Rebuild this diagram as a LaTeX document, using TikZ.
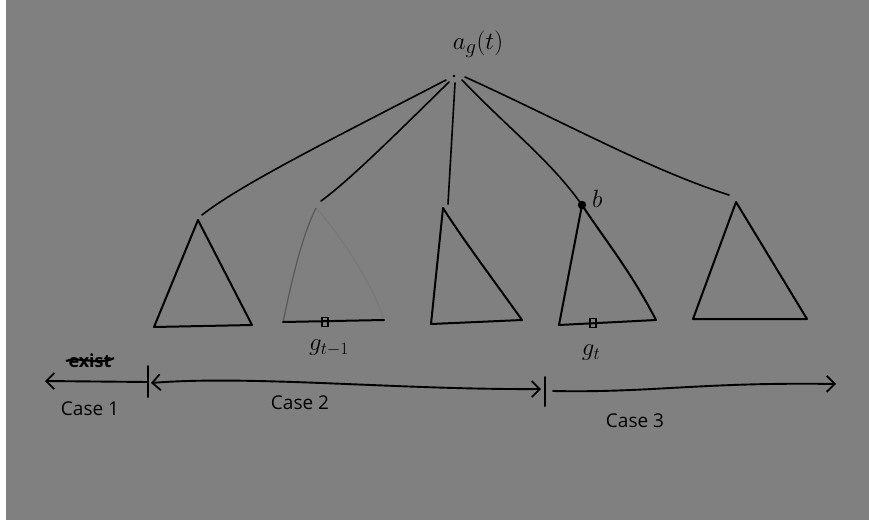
\documentclass[tikz,border=0pt]{standalone}
\usepackage{fontspec}
\setsansfont{Open Sans}
\usetikzlibrary{arrows.meta}
\tikzset{casetip/.tip={Straight Barb[length=8pt,width=16pt,line width=1.8pt]}}
\begin{document}
\begin{tikzpicture}[x=1pt,y=-1pt,
  ink/.style={line width=2pt, line cap=round, line join=round, black},
  edgeln/.style={line width=1.6pt, line cap=round, black},
  faint/.style={line width=1.2pt, black, opacity=0.3},
  fainter/.style={line width=1pt, black, opacity=0.06},
  casearrow/.style={line width=1.9pt, line cap=round, black},
  lab/.style={font=\sffamily\fontsize{19}{22}\selectfont, inner sep=0pt},
  mlab/.style={font=\fontsize{24}{28}\selectfont, inner sep=0pt},
  rlab/.style={font=\fontsize{30}{34}\selectfont, inner sep=0pt},
  marker/.style={draw, line width=1.5pt, minimum width=6pt, minimum height=9pt, inner sep=0pt}
]
\useasboundingbox (0,0) rectangle (869,522);
\fill[white] (0,0) rectangle (869,522);
\fill[gray] (6,0) rectangle (869,520);

% root
\coordinate (root) at (454,76);
\node[rlab] (rootlab) at (478,44) {$a_g(t)$};
\fill (root) circle (1.3pt);

% triangle apexes and bases
\coordinate (t1a) at (198,220); \coordinate (t1l) at (154,327); \coordinate (t1r) at (252,325);
\coordinate (t2a) at (316,208); \coordinate (t2l) at (283,322); \coordinate (t2r) at (384,320);
\coordinate (t3a) at (443,208); \coordinate (t3l) at (431,324); \coordinate (t3r) at (522,320);
\coordinate (t4a) at (582,205); \coordinate (t4l) at (559,325); \coordinate (t4r) at (656,320);
\coordinate (t5a) at (736,202); \coordinate (t5l) at (693,319); \coordinate (t5r) at (807,319);

% edge ends
\coordinate (e1) at (202,215);
\coordinate (e2) at (321,201);
\coordinate (e3) at (448,204);
\coordinate (e5) at (729,195);
\coordinate (r1) at (446,80);
\coordinate (r2) at (449,82);
\coordinate (r3) at (455,83);
\coordinate (r4) at (462,80);
\coordinate (r5) at (465,77);

% edges
\draw[edgeln] (r1) .. controls (330,140) and (240,185) .. (e1);
\draw[edgeln] (r2) .. controls (400,130) and (350,180) .. (e2);
\draw[edgeln] (r3) -- (e3);
\draw[edgeln] (r4) .. controls (510,130) and (550,160) .. (t4a);
\draw[edgeln] (r5) .. controls (560,120) and (650,170) .. (e5);

% triangles
\draw[ink] (t1a) -- (t1l) -- (t1r) -- cycle;
\draw[faint] (t2a) .. controls (300,240) and (290,290) .. (t2l);
\draw[fainter] (t2a) .. controls (345,240) and (375,290) .. (t2r);
\draw[ink] (t2l) -- (t2r);
\draw[ink] (t3a) -- (t3l) -- (t3r) .. controls (492,278) and (462,238) .. (t3a);
\draw[ink] (t4a) -- (t4l) -- (t4r) .. controls (630,270) and (605,240) .. (t4a);
\draw[ink] (t5a) -- (t5l) -- (t5r) -- cycle;

% b point and markers
\fill (t4a) circle (4.2pt);
\node[mlab, anchor=west] (blab) at (592,199) {$b$};
\node[marker] (m1) at (325,322) {};
\node[marker] (m2) at (593,323) {};
\node[mlab] (g1) at (329,348) {$g_{t-1}$};
\node[mlab] (g2) at (591,353) {$g_t$};

% case axis
\coordinate (tick1) at (148,382);
\coordinate (tick2) at (545,392);
\coordinate (c1end) at (45,381);
\coordinate (c2s) at (151,383);
\coordinate (c2e) at (541,389);
\coordinate (c3s) at (553,391);
\coordinate (c3e) at (836,384);
\draw[ink] (148,366) -- (148,397);
\draw[ink] (545,377) -- (545,406);
\draw[casearrow, -{casetip}] (tick1) -- (c1end);
\draw[casearrow, {casetip}-{casetip}] (c2s) .. controls (250,375) and (400,390) .. (c2e);
\draw[casearrow, -{casetip}] (c3s) .. controls (650,393) and (700,382) .. (c3e);

% labels
\node[lab, font=\sffamily\bfseries\fontsize{18}{20}\selectfont] (crossed) at (90,361) {exist};
\draw[line width=2.2pt] (66,361) .. controls (80,356) and (100,366) .. (114,358);
\node[lab] (case1) at (90,409) {Case 1};
\node[lab] (case2) at (300,403) {Case 2};
\node[lab] (case3) at (635,421) {Case 3};
\end{tikzpicture}
\end{document}
